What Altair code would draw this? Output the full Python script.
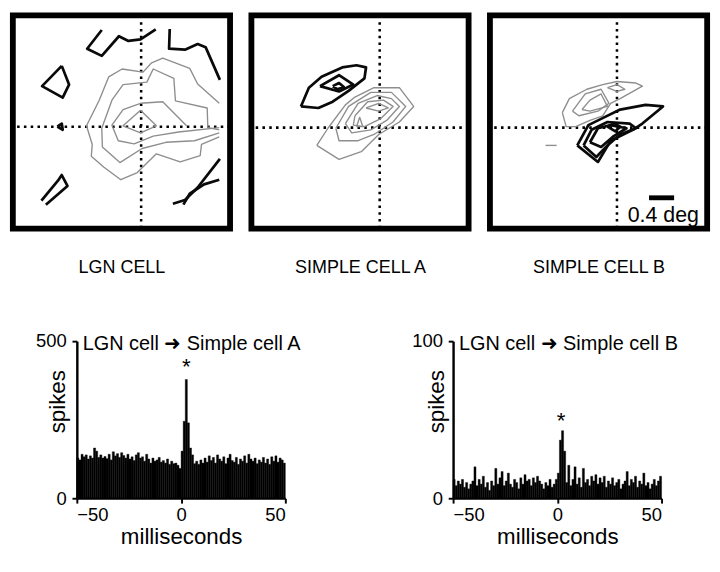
import altair as alt
import pandas as pd

FONT = "Liberation Sans, Arial, Helvetica, sans-serif"

# ---------------- receptive-field contour data (arbitrary map units) ----------------
# panel 1 : LGN cell
lgn_gray_1 = [(668,300),(600,238),(575,188),(490,155),(455,170),(428,200),(362,190),(320,215),(290,290),(250,372),(268,432),(265,470),(305,505),(358,545),(410,522),(470,462),(545,488),(608,468),(612,432),(668,408)]
lgn_gray_2 = [(668,385),(632,378),(630,315),(530,292),(525,220),(460,190),(440,232),(365,240),(330,290),(298,380),(300,440),(355,490),(425,445),(500,425),(590,420),(668,395)]
lgn_gray_3 = [(565,372),(490,295),(420,300),(365,320),(330,370),(350,420),(400,430),(460,405),(540,392),(668,378)]
lgn_gray_4 = [(420,322),(470,372),(420,395),(365,372),(420,322)]
lgn_black_1 = [(298,65),(252,125),(298,148),(352,85),(382,100),(420,95),(468,63)]
lgn_black_2 = [(512,62),(510,125),(560,128),(600,110),(625,120),(670,225)]
lgn_black_3 = [(172,180),(195,240),(175,282),(110,245),(172,180)]
lgn_black_4 = [(158,375),(172,365),(175,385),(158,375)]
lgn_black_5 = [(108,612),(160,548),(172,530),(190,565),(122,625)]
lgn_black_6 = [(522,622),(560,610),(600,570),(670,478)]
lgn_black_7 = [(555,625),(575,590),(620,560),(668,545)]

# panel 2 : simple cell A
sa_black_1 = [(180,310),(205,250),(245,215),(310,185),(355,178),(385,185),(380,220),(330,260),(280,295),(235,315),(180,310)]
sa_black_2 = [(240,245),(300,210),(345,240),(300,262),(240,245)]
sa_black_3 = [(280,245),(300,235),(315,248),(295,255),(280,245)]
sa_gray_1 = [(230,435),(265,380),(320,305),(350,280),(410,250),(490,250),(535,310),(490,360),(425,400),(370,455),(300,480),(230,435)]
sa_gray_2 = [(290,380),(330,310),(400,265),(465,265),(510,310),(470,360),(410,400),(360,420),(300,420),(290,380)]
sa_gray_3 = [(320,365),(360,300),(420,275),(465,285),(490,310),(450,355),(400,385),(340,395),(320,365)]
sa_gray_4 = [(350,340),(390,295),(440,290),(470,310),(430,350),(380,375),(345,370),(350,340)]
sa_gray_5 = [(385,315),(425,300),(455,315),(425,325),(385,315)]
sa_gray_6 = [(355,375),(365,345),(375,375),(355,375)]

# panel 3 : simple cell B
sb_gray_1 = [(258,330),(280,285),(335,255),(385,240),(430,230),(490,235),(510,245),(440,285),(410,300),(385,340),(345,355),(300,375),(270,375),(258,330)]
sb_gray_2 = [(290,325),(330,270),(380,255),(405,300),(370,325),(310,340),(290,325)]
sb_gray_3 = [(320,320),(345,290),(380,270),(400,310),(345,325),(320,320)]
sb_gray_4 = [(400,250),(430,240),(455,255),(430,262),(400,250)]
sb_gray_5 = [(205,435),(240,435)]
sb_black_1 = [(305,435),(340,370),(380,350),(440,320),(520,305),(575,310),(510,365),(480,385),(410,420),(370,488),(305,435)]
sb_black_2 = [(325,435),(350,385),(400,360),(470,365),(490,380),(440,400),(400,435),(365,472),(325,435)]
sb_black_3 = [(345,425),(370,380),(410,370),(460,380),(420,405),(380,440),(345,425)]
sb_black_4 = [(400,375),(420,365),(440,375),(425,390),(400,375)]

panels = ["LGN CELL", "SIMPLE CELL A", "SIMPLE CELL B"]
panel_xdomain = {"LGN CELL": [18, 702], "SIMPLE CELL A": [24, 708], "SIMPLE CELL B": [30, 714]}
cross_x = {"LGN CELL": 422, "SIMPLE CELL A": 428, "SIMPLE CELL B": 430}
cross_y = {"LGN CELL": 375, "SIMPLE CELL A": 378, "SIMPLE CELL B": 378}

contours = {
    "LGN CELL": [("gray", lgn_gray_1), ("gray", lgn_gray_2), ("gray", lgn_gray_3), ("gray", lgn_gray_4),
                 ("black", lgn_black_1), ("black", lgn_black_2), ("black", lgn_black_3), ("black", lgn_black_4),
                 ("black", lgn_black_5), ("black", lgn_black_6), ("black", lgn_black_7)],
    "SIMPLE CELL A": [("black", sa_black_1), ("black", sa_black_2), ("black", sa_black_3),
                      ("gray", sa_gray_1), ("gray", sa_gray_2), ("gray", sa_gray_3), ("gray", sa_gray_4),
                      ("gray", sa_gray_5), ("gray", sa_gray_6)],
    "SIMPLE CELL B": [("gray", sb_gray_1), ("gray", sb_gray_2), ("gray", sb_gray_3), ("gray", sb_gray_4),
                      ("gray", sb_gray_5), ("black", sb_black_1), ("black", sb_black_2), ("black", sb_black_3),
                      ("black", sb_black_4)],
}

scale_bar = {"x": [531], "x2": [610], "y": [603]}
scale_label = {"x": [576], "y": [682], "t": ["0.4 deg"]}

# ---------------- cross-correlogram data ----------------
ms_bins = list(range(-50, 50))
spikes_A = [128,122,140,132,138,125,135,128,160,150,130,138,128,133,126,140,122,148,135,142,
            130,145,136,128,140,125,132,120,138,145,128,132,118,140,125,112,128,118,122,130,
            115,120,112,125,108,118,110,112,105,95,
            150,245,378,240,160,138,
            110,118,108,122,112,128,115,135,120,130,112,138,125,118,132,110,128,140,120,115,
            130,108,125,118,135,112,140,125,118,128,110,122,115,130,112,125,108,132,118,135,
            115,128,122,112]
spikes_B = [12,8,11,9,12,7,10,6,9,11,20,8,12,9,14,7,10,5,11,8,19,9,13,17,8,11,16,9,7,12,
            10,6,13,9,15,11,12,8,13,10,14,11,9,6,10,8,12,7,9,12,
            16,37,43,30,10,21,8,12,20,9,13,7,19,10,12,8,14,11,15,9,13,10,14,7,11,9,13,8,10,12,
            6,9,11,17,8,12,10,14,7,11,9,16,8,10,6,9,12,8,11,14]


def panel_chart(name):
    rows = []
    for cid, (kind, pts) in enumerate(contours[name]):
        for i, (x, y) in enumerate(pts):
            rows.append({"cid": cid, "kind": kind, "i": i, "x": x, "y": y})
    df = pd.DataFrame(rows)
    xs = alt.Scale(domain=panel_xdomain[name], nice=False, zero=False)
    ys = alt.Scale(domain=[18, 702], nice=False, zero=False, reverse=True)
    xax = alt.Axis(title=name, labels=False, ticks=False, domain=False, grid=False,
                   titleFont=FONT, titleFontSize=18.5, titleFontWeight="normal", titleColor="black",
                   titlePadding=30)
    lines = alt.Chart(df).mark_line(strokeJoin="round").encode(
        x=alt.X("x:Q", scale=xs, axis=xax),
        y=alt.Y("y:Q", scale=ys, axis=None),
        detail="cid:N",
        order="i:Q",
        color=alt.Color("kind:N", scale=alt.Scale(domain=["gray", "black"], range=["#8e8e8e", "#0a0a0a"]), legend=None),
        strokeWidth=alt.StrokeWidth("kind:N", scale=alt.Scale(domain=["gray", "black"], range=[1.4, 2.8]), legend=None),
    )
    vr = alt.Chart(pd.DataFrame({"x": [cross_x[name]]})).mark_rule(
        color="black", strokeWidth=2.6, strokeDash=[2.6, 4.4]).encode(x=alt.X("x:Q", scale=xs, axis=xax))
    hr = alt.Chart(pd.DataFrame({"y": [cross_y[name]]})).mark_rule(
        color="black", strokeWidth=2.6, strokeDash=[2.6, 4.4]).encode(y=alt.Y("y:Q", scale=ys, axis=None))
    layers = [hr, vr, lines]
    if name == "SIMPLE CELL B":
        bar = alt.Chart(pd.DataFrame(scale_bar)).mark_rule(color="black", strokeWidth=5).encode(
            x=alt.X("x:Q", scale=xs, axis=xax), x2="x2:Q", y=alt.Y("y:Q", scale=ys, axis=None))
        lab = alt.Chart(pd.DataFrame(scale_label)).mark_text(
            font=FONT, fontSize=22, align="center", baseline="alphabetic", color="black").encode(
            x=alt.X("x:Q", scale=xs, axis=xax), y=alt.Y("y:Q", scale=ys, axis=None), text="t:N")
        layers += [bar, lab]
    return alt.layer(*layers).properties(
        width=224, height=220,
        view=alt.ViewBackground(stroke="black", strokeWidth=6, fill="white"),
    )


def hist_chart(vals, ymax, label, star_x, star_y, title_x):
    df = pd.DataFrame({"t": ms_bins, "t2": [b + 1 for b in ms_bins], "v": vals})
    xs = alt.Scale(domain=[-50, 50], nice=False, zero=False)
    ys = alt.Scale(domain=[0, ymax], nice=False)
    bars = alt.Chart(df).mark_bar(color="black", stroke="black", strokeWidth=0.4).encode(
        x=alt.X("t:Q", scale=xs, axis=alt.Axis(
            values=[-50, 0, 50], title="milliseconds", grid=False, domainColor="black", domainWidth=2,
            tickColor="black", tickWidth=2, tickSize=5, labelFont=FONT, labelFontSize=19, labelColor="black",
            labelPadding=3, titleFont=FONT, titleFontSize=23, titleFontWeight="normal", titleColor="black",
            titlePadding=2)),
        x2="t2:Q",
        y=alt.Y("v:Q", scale=ys, axis=alt.Axis(
            values=[0, ymax], title="spikes", grid=False, domainColor="black", domainWidth=2.5,
            tickColor="black", tickWidth=2, tickSize=5, labelFont=FONT, labelFontSize=19, labelColor="black",
            labelPadding=6, titleFont=FONT, titleFontSize=23, titleFontWeight="normal", titleColor="black",
            titleAngle=270, titleX=title_x, titleY=62, titleAlign="center", titleBaseline="middle")),
        y2=alt.datum(0),
    )
    txt = alt.Chart(pd.DataFrame({"x": [-47.2], "y": [ymax], "t": [label]})).mark_text(
        font=FONT, fontSize=20.5, align="left", baseline="middle", dy=3, color="black").encode(
        x=alt.X("x:Q", scale=xs), y=alt.Y("y:Q", scale=ys), text="t:N")
    star = alt.Chart(pd.DataFrame({"x": [star_x], "y": [star_y], "t": ["*"]})).mark_text(
        font=FONT, fontSize=23, align="center", baseline="alphabetic", dy=12, color="black").encode(
        x=alt.X("x:Q", scale=xs), y=alt.Y("y:Q", scale=ys), text="t:N")
    return alt.layer(bars, txt, star).properties(width=215, height=162)


top = alt.hconcat(*[panel_chart(p) for p in panels], spacing=12)

spacer = alt.Chart(alt.Data(values=[{"a": 0}])).mark_point(opacity=0).encode(
    x=alt.value(0), y=alt.value(0)).properties(width=23, height=10)

h1 = hist_chart(spikes_A, 500, "LGN cell \u279c Simple cell A", 2.5, 432, -20)
h2 = hist_chart(spikes_B, 100, "LGN cell \u279c Simple cell B", 1.8, 52, -17)
bottom = alt.hconcat(spacer, alt.hconcat(h1, h2, spacing=112), spacing=0)

chart = alt.vconcat(top, bottom, spacing=55).properties(
    padding={"left": 0, "top": -6, "right": 0, "bottom": 0}, background="white"
).configure_view(strokeWidth=0)

chart.save("out.html", embed_options={"renderer": "svg", "actions": False})
